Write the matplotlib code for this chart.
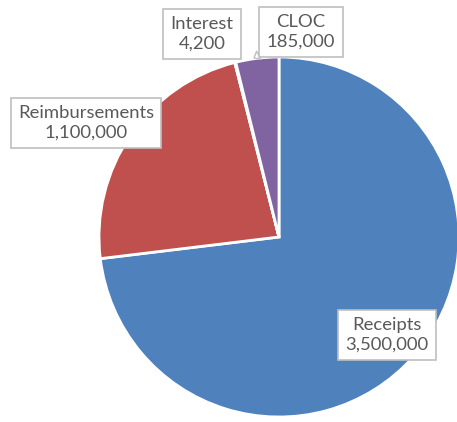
import matplotlib.pyplot as plt

categories = ['Receipts', 'Reimbursements', 'Interest', 'CLOC']
values = [3500000, 1100000, 4200, 185000]
colors = ['#4F81BD', '#C0504D', '#9BBB59', '#8064A2']

# label box centres in pixel coords (y from top)
label_pos = {
    'Receipts': (387, 335),
    'Reimbursements': (86, 123),
    'Interest': (202, 34),
    'CLOC': (301, 32),
}

W, H = 457, 422
fig = plt.figure(figsize=(W / 100, H / 100), dpi=100)
ax = fig.add_axes([0, 0, 1, 1])

ax.pie(values, colors=colors, startangle=90, counterclock=False,
       center=(279, H - 237), radius=180, frame=True,
       wedgeprops=dict(edgecolor='white', linewidth=2))
ax.set_xlim(0, W)
ax.set_ylim(0, H)
ax.set_aspect('equal')
ax.axis('off')

fs = 13.3
box = dict(boxstyle='square,pad=0.4', fc='white', ec='#BFBFBF', lw=1.2)
for name, val in zip(categories, values):
    x, y = label_pos[name]
    txt = f'{name}\n{val:,}'
    if name == 'CLOC':
        ax.annotate(txt, xy=(254, H - 58), xytext=(x, H - y),
                    ha='center', va='center', fontsize=fs, family='Lato',
                    color='#595959', linespacing=1.3, bbox=box,
                    arrowprops=dict(arrowstyle='wedge,tail_width=0.5,shrink_factor=0.5',
                                    fc='white', ec='#BFBFBF', lw=1.0,
                                    shrinkA=0, shrinkB=0))
    else:
        ax.text(x, H - y, txt, ha='center', va='center', fontsize=fs,
                family='Lato', color='#595959', linespacing=1.3, bbox=box)

fig.savefig('out.png', dpi=100)
